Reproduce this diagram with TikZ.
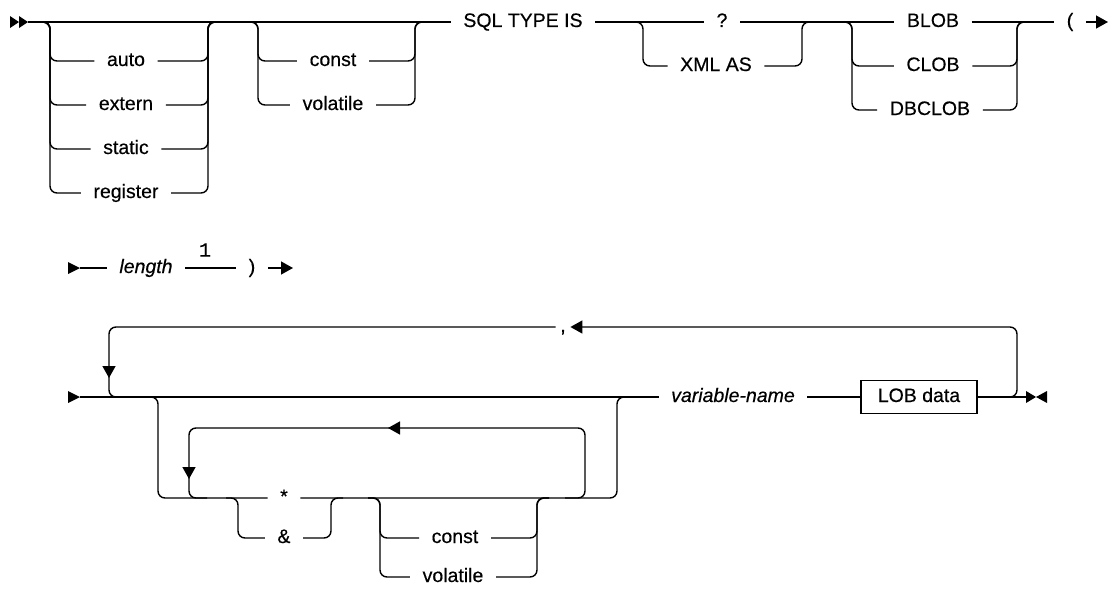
\documentclass[tikz,border=0pt]{standalone}
\usepackage{fontspec}
\setmainfont{Liberation Sans}[UprightFeatures={FakeBold=0.4}, ItalicFeatures={FakeBold=0.4}]
\newfontfamily\notefont{Liberation Mono}[FakeBold=0.4]
\usetikzlibrary{arrows.meta}

\begin{document}
\begin{tikzpicture}[x=1pt, y=-1pt, line width=1.4pt, rounded corners=7pt,
  >={Triangle[length=12pt,width=13pt]},
  kw/.style={font=\fontsize{19.5}{22}\selectfont, text height=10pt, text depth=0pt, inner ysep=0pt, inner xsep=12pt},
  var/.style={kw, font=\fontsize{19.5}{22}\selectfont\itshape},
  tip/.style={fill, sharp corners}]
\useasboundingbox (0,0) rectangle (1109,589);

% first row
\fill[tip] (10,16) -- (19,22) -- (10,28) -- cycle (19,16) -- (28,22) -- (19,28) -- cycle;
\node[kw] (sqltype) at (523,22) {SQL TYPE IS};
\draw (28,22) -- (sqltype.west);
\foreach \nm/\y in {auto/61, extern/105, static/149, register/193}{
  \node[kw] (\nm) at (126,\y) {\nm};
  \draw (38,22) -- (50,22) -- (50,\y) -- (\nm.west);
  \draw (\nm.east) -- (208,\y) -- (208,22) -- (220,22);
}
\foreach \nm/\txt/\y in {constA/const/61, volatileA/volatile/105}{
  \node[kw] (\nm) at (333,\y) {\txt};
  \draw (246,22) -- (258,22) -- (258,\y) -- (\nm.west);
  \draw (\nm.east) -- (415,\y) -- (415,22) -- (427,22);
}
\node[kw] (qmark) at (722,22) {?};
\node[kw] (xmlas) at (716,66) {XML AS};
\draw (sqltype.east) -- (qmark.west);
\draw (631,22) -- (643,22) -- (643,66) -- (xmlas.west);
\draw (xmlas.east) -- (802,66) -- (802,22) -- (814,22);
\node[kw] (blob) at (933,22) {BLOB};
\node[kw] (paren) at (1070,22) {(};
\draw (qmark.east) -- (blob.west);
\draw (blob.east) -- (paren.west);
\foreach \nm/\txt/\y/\cx in {clob/CLOB/66/933, dbclob/DBCLOB/110/930}{
  \node[kw] (\nm) at (\cx,\y) {\txt};
  \draw (840,22) -- (852,22) -- (852,\y) -- (\nm.west);
  \draw (\nm.east) -- (1017,\y) -- (1017,22) -- (1029,22);
}
\draw[->] (paren.east) -- (1108,22);

% second row
\fill[tip] (68,262) -- (80,268) -- (68,274) -- cycle;
\node[var] (length) at (146,268) {length};
\node[kw] (paren2) at (252,268) {)};
\node[font=\notefont\fontsize{20}{22}\selectfont] (note1) at (205,250) {1};
\draw (80,268) -- (length.west);
\draw (length.east) -- (paren2.west);
\draw[->] (paren2.east) -- (293,268);

% third row
\fill[tip] (68,391) -- (80,397) -- (68,403) -- cycle;
\node[var] (varname) at (733,397) {variable-name};
\node[kw, draw, sharp corners, line width=1.2pt, minimum width=116pt, minimum height=33pt, inner xsep=6pt] (lobdata) at (919,397) {LOB data};
\draw (80,397) -- (varname.west);
\draw (varname.east) -- (lobdata.west);
\draw (lobdata.east) -- (1026,397);
\fill[tip] (1026,391) -- (1036,397) -- (1026,403) -- cycle (1047,391) -- (1036,397) -- (1047,403) -- cycle;
\node[kw, inner xsep=4pt] (comma) at (563,327) {,};
\draw[->] (997,397) -- (1017,397) -- (1017,327) -- (comma.east);
\draw[->] (comma.west) -- (109,327) -- (109,378);
\draw (109,376) -- (109,397) -- (127,397);
\node[kw] (star) at (284,498) {*};
\node[kw] (amp) at (284,538) {\&};
\draw (146,397) -- (158,397) -- (158,498) -- (star.west);
\draw (star.east) -- (617,498) -- (617,397) -- (629,397);
\draw (226,498) -- (238,498) -- (238,538) -- (amp.west);
\draw (amp.east) -- (331,538) -- (331,498) -- (343,498);
\draw[->] (565,498) -- (585,498) -- (585,428) -- (388,428);
\draw[->] (390,428) -- (189,428) -- (189,479);
\draw (189,477) -- (189,498) -- (207,498);
\foreach \nm/\txt/\y/\cx in {constB/const/538/455, volatileB/volatile/577/453}{
  \node[kw] (\nm) at (\cx,\y) {\txt};
  \draw (368,498) -- (380,498) -- (380,\y) -- (\nm.west);
  \draw (\nm.east) -- (537,\y) -- (537,498) -- (549,498);
}
\end{tikzpicture}
\end{document}
